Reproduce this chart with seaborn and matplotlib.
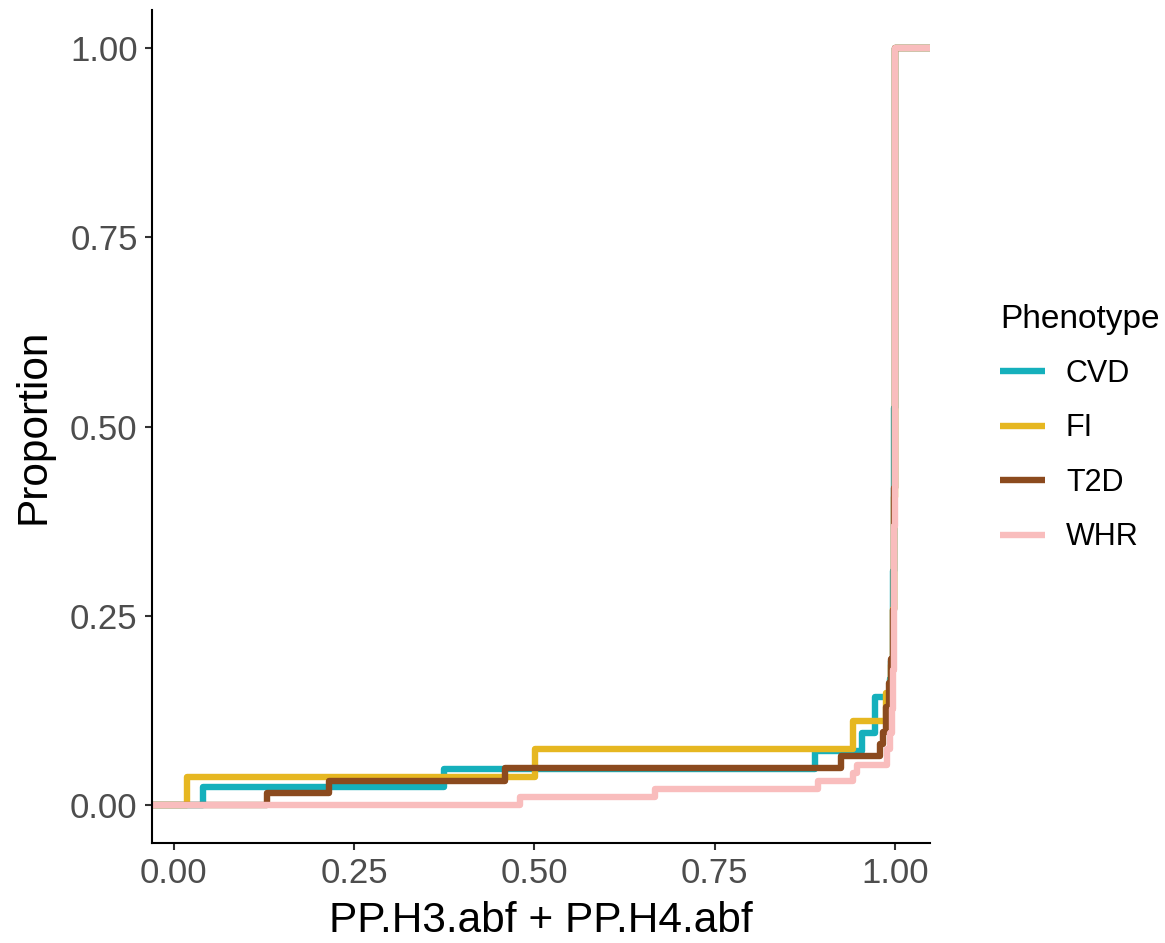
import matplotlib
matplotlib.use('Agg')
import matplotlib.pyplot as plt
import numpy as np
import pandas as pd
import seaborn as sns

# Values (unique values + how many loci share them)
phenotypes = ['CVD', 'FI', 'T2D', 'WHR']
colors = {'CVD': '#15B0BC', 'FI': '#E6B721', 'T2D': '#8B4A1E', 'WHR': '#F9BDBD'}

cvd_vals = [0.040, 0.3745, 0.889, 0.954, 0.972, 0.993, 0.995, 0.997, 0.998, 0.9993, 0.9997]
cvd_counts = [1, 1, 1, 1, 2, 1, 1, 2, 3, 9, 20]

fi_vals = [0.019, 0.5005, 0.942, 0.988, 0.994, 0.997, 0.999, 0.9997]
fi_counts = [1, 1, 1, 1, 1, 2, 4, 16]

t2d_vals = [0.130, 0.215, 0.459, 0.926, 0.979, 0.983, 0.988, 0.992, 0.995, 0.998, 0.9993, 0.9997]
t2d_counts = [1, 1, 1, 1, 1, 1, 2, 2, 2, 4, 10, 36]

whr_vals = [0.480, 0.667, 0.893, 0.942, 0.947, 0.989, 0.993, 0.996, 0.998, 0.9993, 0.9997]
whr_counts = [1, 1, 1, 1, 1, 2, 2, 3, 5, 18, 60]

ticks = [0.0, 0.25, 0.5, 0.75, 1.0]
tick_labels = ['0.00', '0.25', '0.50', '0.75', '1.00']

df = pd.concat([
    pd.DataFrame({'Phenotype': 'CVD', 'value': cvd_vals, 'n': cvd_counts}),
    pd.DataFrame({'Phenotype': 'FI', 'value': fi_vals, 'n': fi_counts}),
    pd.DataFrame({'Phenotype': 'T2D', 'value': t2d_vals, 'n': t2d_counts}),
    pd.DataFrame({'Phenotype': 'WHR', 'value': whr_vals, 'n': whr_counts}),
], ignore_index=True)

sns.set_theme(style='ticks')
plt.rcParams['font.family'] = ['Liberation Sans', 'DejaVu Sans']

fig = plt.figure(figsize=(11.65, 9.43), dpi=100)
ax = fig.add_axes([152 / 1165, 1 - 843 / 943, (930 - 152) / 1165, (843 - 10) / 943])

# ggplot-like 5% expansion of the data range
lo, hi = df['value'].min(), df['value'].max()
xmin, xmax = lo - 0.05 * (hi - lo), hi + 0.05 * (hi - lo)

for p in phenotypes:
    sub = df[df['Phenotype'] == p]
    sns.ecdfplot(data=sub, x='value', weights='n', color=colors[p], linewidth=4.6, ax=ax, label=p)
    line = ax.lines[-1]
    line.set_solid_capstyle('butt')
    # pad the step to both panel edges like stat_ecdf(pad = TRUE)
    xs = np.asarray(line.get_xdata(), dtype=float)
    ys = np.asarray(line.get_ydata(), dtype=float)
    xs[~np.isfinite(xs)] = xmin
    line.set_data(np.r_[xs, xmax], np.r_[ys, 1.0])

ax.set_xlim(xmin, xmax)
ax.set_ylim(-0.05, 1.05)
ax.set_xticks(ticks)
ax.set_xticklabels(tick_labels)
ax.set_yticks(ticks)
ax.set_yticklabels(tick_labels)

sns.despine(ax=ax)
for s in ['left', 'bottom']:
    ax.spines[s].set_linewidth(1.5)
    ax.spines[s].set_color('black')
ax.tick_params(axis='both', length=5.3, width=1.5, color='#333333', labelsize=25,
               labelcolor='#4D4D4D', pad=5)

ax.set_xlabel('PP.H3.abf + PP.H4.abf', fontsize=30.5, color='black', labelpad=8)
ax.set_ylabel('Proportion', fontsize=30.5, color='black', labelpad=12)

handles = ax.lines[:len(phenotypes)]
leg = fig.legend(handles, phenotypes, title='Phenotype', loc='center left',
                 bbox_to_anchor=(985 / 1165, 1 - 428 / 943), frameon=False,
                 fontsize=22, title_fontsize=24, handlelength=1.45, handletextpad=0.7,
                 labelspacing=0.8, borderpad=0, alignment='left')
leg.get_title().set_color('black')
for t in leg.get_texts():
    t.set_color('black')

fig.savefig('out.png', dpi=100)
